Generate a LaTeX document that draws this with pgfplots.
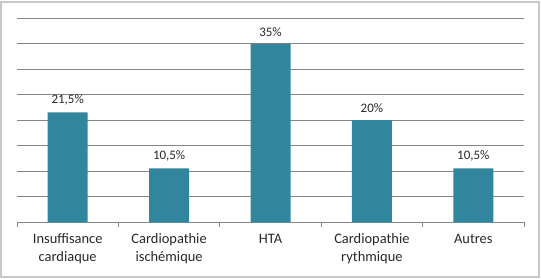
\documentclass[border=0pt]{standalone}
\usepackage{pgfplots}
\pgfplotsset{compat=1.18}
\usepackage{fontspec}
\setmainfont{Carlito}
\definecolor{barteal}{RGB}{49,133,156}
\definecolor{gridgray}{RGB}{134,134,134}
\definecolor{framegray}{RGB}{200,200,200}
\definecolor{txt}{RGB}{40,40,40}
\begin{document}
\begin{tikzpicture}[x=1bp,y=1bp]
% chart area frame
\path[use as bounding box] (0,0) rectangle (541,278);
\draw[framegray, line width=1.2bp] (1,1) rectangle (539,276);
\begin{axis}[
  at={(17bp,56bp)}, anchor=south west,
  scale only axis,
  width=507bp, height=204bp,
  ymin=0, ymax=40,
  xmin=-0.5, xmax=4.5,
  axis x line*=bottom, axis y line*=left,
  x axis line style={gridgray, line width=0.8bp, -},
  y axis line style={draw=none},
  ytick={5,10,...,40},
  yticklabels={},
  ymajorgrids,
  major grid style={gridgray, line width=0.8bp},
  major y tick style={draw=none},
  xtick={0,1,2,3,4},
  xticklabels={{Insuffisance\\cardiaque},{Cardiopathie\\ischémique},{HTA},{Cardiopathie\\rythmique},{Autres}},
  xticklabel style={align=center, font=\fontsize{14.5}{18}\selectfont, text=txt, yshift=-4bp},
  major x tick style={draw=none},
  minor xtick={-0.5,0.5,1.5,2.5,3.5,4.5},
  minor x tick style={gridgray, line width=0.8bp},
  minor tick length=5bp,
  tick align=outside,
  ybar, bar width=40bp,
  point meta=explicit symbolic,
  nodes near coords,
  nodes near coords style={font=\fontsize{13}{15}\selectfont, text=txt, yshift=3.5bp},
  clip=false,
]
\addplot[fill=barteal, draw=none] table[meta=label] {
x  y    label
0  21.5 21,5\%
1  10.5 10,5\%
2  35   35\%
3  20   20\%
4  10.5 10,5\%
};
\end{axis}
\end{tikzpicture}
\end{document}
